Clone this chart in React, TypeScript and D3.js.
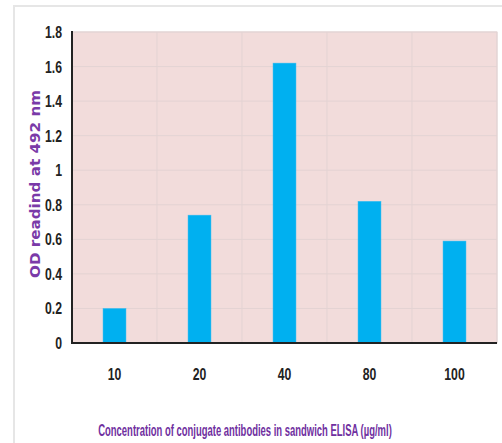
import React, { useEffect, useRef } from "react";
import * as d3 from "d3";

const categories = ["10", "20", "40", "80", "100"];
const values = [0.2, 0.74, 1.62, 0.82, 0.59];
const yTicks = [0, 0.2, 0.4, 0.6, 0.8, 1, 1.2, 1.4, 1.6, 1.8];
const yTitle = "OD readind at 492 nm";
const xTitle = "Concentration of conjugate antibodies in sandwich ELISA (µg/ml)";

export default function App() {
  const W = 502, H = 443;
  const left = 72, right = 497, top = 32, bottom = 343;
  const x = d3.scaleBand().domain(categories).range([left, right]).paddingInner(0).paddingOuter(0);
  const y = d3.scaleLinear().domain([0, 1.8]).range([bottom, top]);
  const bw = x.bandwidth() * 0.27;
  const font = "'Liberation Sans', Arial, sans-serif";
  const sx = 0.72;
  const xTitleRef = useRef<SVGTextElement>(null);
  useEffect(() => {
    const el = xTitleRef.current;
    if (!el) return;
    const w = el.getComputedTextLength();
    const s = 294 / w;
    el.setAttribute("transform", `translate(245,436) scale(${s},1)`);
  }, []);
  return (
    <svg width={W} height={H} style={{ position: "absolute", left: 0, top: 0 }}>
      <rect x={0} y={0} width={W} height={H} fill="#fff" />
      <path d={`M14,${H} L14,6 L${W},6`} fill="none" stroke="#e6e6e6" strokeWidth={2} />
      <rect x={left} y={top} width={right - left} height={bottom - top} fill="#F2DCDB" stroke="#e2d6d6" strokeWidth={1} />
      {yTicks.map((t) => (
        <line key={"h" + t} x1={left} x2={right} y1={y(t)} y2={y(t)} stroke="#e3d3d3" strokeWidth={1} />
      ))}
      {categories.map((c) => (
        <line key={"v" + c} x1={(x(c) as number) + x.bandwidth()} x2={(x(c) as number) + x.bandwidth()} y1={top} y2={bottom} stroke="#e3d3d3" strokeWidth={1} />
      ))}
      {categories.map((c, i) => {
        const cx = (x(c) as number) + x.bandwidth() / 2;
        return (
          <rect key={"b" + c} x={cx - bw / 2} y={y(values[i])} width={bw} height={bottom - y(values[i])} fill="#00B0F0" stroke="#3dbdf0" strokeWidth={0.5} />
        );
      })}
      <line x1={left} x2={left} y1={top - 1} y2={bottom + 1} stroke="#222" strokeWidth={2} />
      <line x1={left - 1} x2={right} y1={bottom} y2={bottom} stroke="#222" strokeWidth={2} />
      {yTicks.map((t) => (
        <text key={"yt" + t} transform={`translate(62,${y(t)}) scale(${sx},1)`} dy="0.35em" textAnchor="end" fontFamily={font} fontWeight="bold" fontSize={17} fill="#222">
          {String(t)}
        </text>
      ))}
      {categories.map((c) => (
        <text key={"xt" + c} transform={`translate(${(x(c) as number) + x.bandwidth() / 2},380) scale(${sx},1)`} textAnchor="middle" fontFamily={font} fontWeight="bold" fontSize={17} fill="#222">
          {c}
        </text>
      ))}
      <text transform={`translate(40,184) rotate(-90)`} textAnchor="middle" fontFamily="'DejaVu Sans', sans-serif" fontWeight="bold" fontSize={13.5} fill="#7a3aa8" textLength={188} lengthAdjust="spacingAndGlyphs">
        {yTitle}
      </text>
      <text ref={xTitleRef} transform="translate(245,436) scale(0.6,1)" textAnchor="middle" fontFamily={font} fontWeight="bold" fontSize={16} fill="#7030A0">
        {xTitle}
      </text>
    </svg>
  );
}
